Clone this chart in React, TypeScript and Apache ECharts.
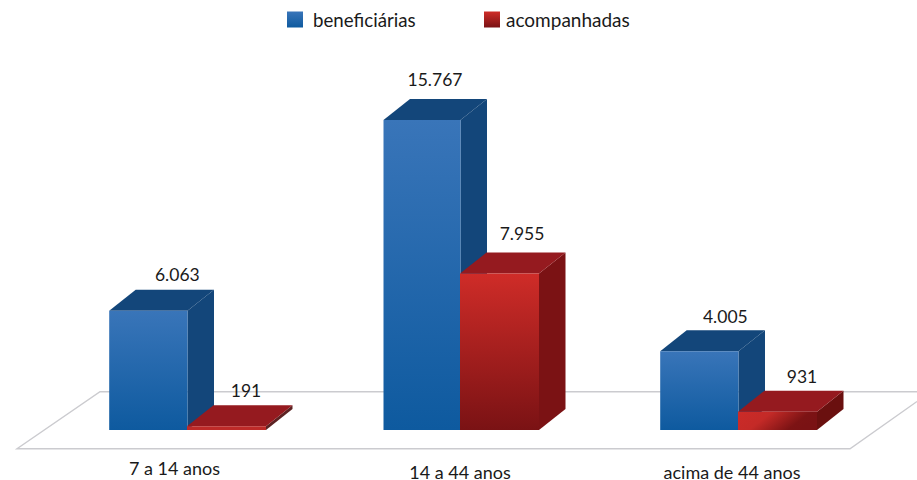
import React, { useEffect, useRef } from "react";
import * as echarts from "echarts";

const categories = ["7 a 14 anos", "14 a 44 anos", "acima de 44 anos"];
const beneficiarias = [6063, 15767, 4005];
const acompanhadas = [191, 7955, 931];
const seriesNames = ["beneficiárias", "acompanhadas"];

// layout tweaks, kept apart from the values
const groupNudge = [0, -2.5, 0];
const blueWidths = [77.8, 76.5, 77.8];
const blueLabelOffset = [[29, -15], [13, -19], [26, -14]];
const redLabelOffset = [[19.5, -15], [22.5, -19], [24.5, -14]];

const FONT = "Lato, 'Noto Sans', sans-serif";
const TEXT = "#1a1a1a";
const RIGHT_W = 79;
const DX = 26.5;
const DY = 21;
const BASE_Y = 430;

const vGrad = (a: string, b: string) =>
  new echarts.graphic.LinearGradient(0, 0, 0, 1, [
    { offset: 0, color: a },
    { offset: 1, color: b },
  ]);

const blueFront = () => vGrad("#3975b9", "#0e5a9f");
const redFront = () => vGrad("#cf2c28", "#7a1214");

const fmt = (v: number) => String(v).replace(/\B(?=(\d{3})+$)/g, ".");

function makeBar(kind: "blue" | "red") {
  return (params: any, api: any) => {
    const i = params.dataIndex;
    const value = api.value(1);
    const base = api.coord([api.value(0), 0]);
    const top = api.coord([api.value(0), value]);
    const c = base[0] + groupNudge[i];
    const x0 = kind === "blue" ? c - blueWidths[i] : c;
    const x1 = kind === "blue" ? c + 0.5 : c + RIGHT_W;
    const yb = BASE_Y;
    const yt = top[1];
    let front: any = kind === "blue" ? blueFront() : redFront();
    let topFill = kind === "blue" ? "#13467a" : "#951a1f";
    let sideFill = kind === "blue" ? "#13467a" : "#7b1214";
    if (kind === "red" && i === 0) {
      front = "#bd2a28";
      sideFill = "#5c2222";
    }
    if (kind === "red" && i === 2) {
      front = new echarts.graphic.LinearGradient(0, 0, 1, 0.3, [
        { offset: 0, color: "#cc2b28" },
        { offset: 0.4, color: "#c42a27" },
        { offset: 0.85, color: "#7c1314" },
        { offset: 1, color: "#7a1214" },
      ]);
      sideFill = "#6a100f";
    }
    const off = (kind === "blue" ? blueLabelOffset : redLabelOffset)[i];
    return {
      type: "group",
      children: [
        {
          type: "polygon",
          shape: { points: [[x1, yt], [x1 + DX, yt - DY], [x1 + DX, yb - DY], [x1, yb]] },
          style: { fill: sideFill },
        },
        {
          type: "polygon",
          shape: { points: [[x0, yt], [x0 + DX, yt - DY], [x1 + DX, yt - DY], [x1, yt]] },
          style: { fill: topFill },
        },
        {
          type: "rect",
          shape: { x: x0, y: yt, width: x1 - x0, height: yb - yt },
          style: { fill: front },
        },
        {
          type: "text",
          style: {
            text: fmt(value),
            x: (x0 + x1) / 2 + off[0],
            y: yt - DY + off[1],
            fill: TEXT,
            fontSize: 17.5,
            fontFamily: FONT,
            align: "center",
            verticalAlign: "middle",
          },
        },
      ],
    };
  };
}

export default function App() {
  const ref = useRef<HTMLDivElement>(null);
  useEffect(() => {
    document.body.style.margin = "0";
    const chart = echarts.init(ref.current!, undefined, { renderer: "svg" });
    const legendText = { color: TEXT, fontFamily: FONT };
    chart.setOption({
      animation: false,
      backgroundColor: "#ffffff",
      legend: [
        {
          data: [{ name: seriesNames[0], icon: "rect" }],
          left: 287,
          top: 10,
          padding: 0,
          itemWidth: 16,
          itemHeight: 16,
          selectedMode: false,
          textStyle: { ...legendText, fontSize: 18.7, padding: [0, 0, 0, 5] },
        },
        {
          data: [{ name: seriesNames[1], icon: "rect" }],
          left: 484,
          top: 10,
          padding: 0,
          itemWidth: 16,
          itemHeight: 16,
          selectedMode: false,
          textStyle: { ...legendText, fontSize: 19, padding: [0, 0, 0, 1] },
        },
      ],
      grid: { left: 49.25, width: 826.5, top: 115.4, height: 314.6, outerBoundsMode: "none" },
      xAxis: {
        type: "category",
        data: categories,
        axisLine: { show: false },
        axisTick: { show: false },
        axisLabel: {
          margin: 42,
          verticalAlign: "middle",
          color: TEXT,
          fontSize: 18,
          fontFamily: FONT,
          interval: 0,
          formatter: (v: string, i: number) => `{c${i}|${v}}`,
          rich: {
            c0: { fontSize: 18, lineHeight: 14, fontFamily: FONT, color: TEXT, padding: [0, 25, 8, 0] },
            c1: { fontSize: 18, lineHeight: 14, fontFamily: FONT, color: TEXT, padding: [0, 5, 0, 0] },
            c2: { fontSize: 18, lineHeight: 14, fontFamily: FONT, color: TEXT, padding: [0, 12, 0, 0] },
          },
        },
      },
      yAxis: { type: "value", min: 0, max: 16000, show: false },
      graphic: [
        {
          type: "polyline",
          z: 0,
          shape: { points: [[917, 391.7], [100, 391.7], [17, 448.7], [850, 448.7], [917, 401.5]] },
          style: { fill: "none", stroke: "#cbcbcf", lineWidth: 1.4 },
        },
      ],
      series: [
        {
          type: "custom",
          name: seriesNames[0],
          coordinateSystem: "cartesian2d",
          itemStyle: { color: blueFront() },
          encode: { x: 0, y: 1 },
          data: beneficiarias.map((v, i) => [i, v]),
          renderItem: makeBar("blue"),
          z: 2,
        },
        {
          type: "custom",
          name: seriesNames[1],
          coordinateSystem: "cartesian2d",
          itemStyle: { color: redFront() },
          encode: { x: 0, y: 1 },
          data: acompanhadas.map((v, i) => [i, v]),
          renderItem: makeBar("red"),
          z: 3,
        },
      ],
    });
    return () => chart.dispose();
  }, []);
  return <div ref={ref} style={{ width: 917, height: 480 }} />;
}
